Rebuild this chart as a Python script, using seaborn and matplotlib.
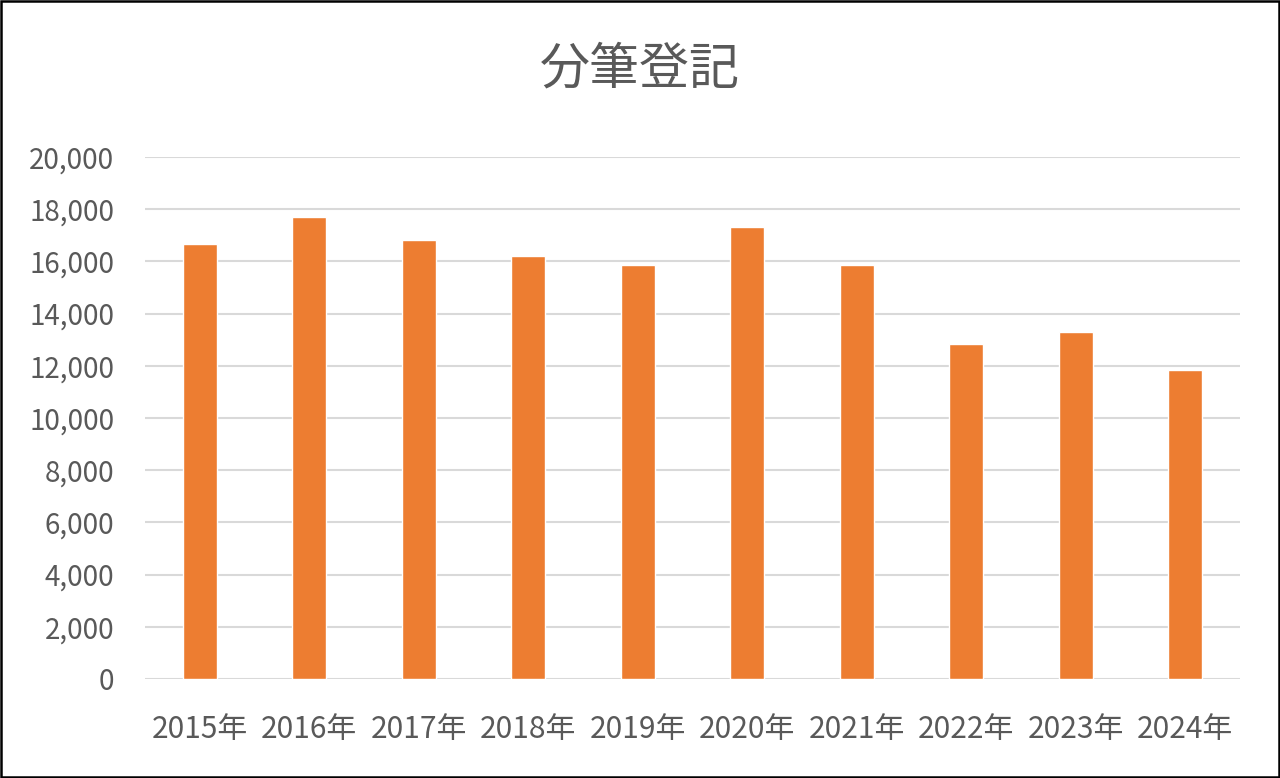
"""
Bar chart of yearly 分筆登記 counts, 2015-2024.
"""

import matplotlib
matplotlib.use("Agg")
import matplotlib.pyplot as plt
from matplotlib.patches import Rectangle
from matplotlib.ticker import FuncFormatter, MultipleLocator
import pandas as pd
import seaborn as sns

years = ["2015年", "2016年", "2017年", "2018年", "2019年",
         "2020年", "2021年", "2022年", "2023年", "2024年"]
counts = [16680, 17690, 16820, 16200, 15850,
          17320, 15870, 12830, 13310, 11850]
title = "分筆登記"

sns.set_theme(style="white")
plt.rcParams["font.family"] = ["Noto Sans CJK JP", "DejaVu Sans"]

text_grey = "#595959"
grid_grey = "#D9D9D9"
bar_orange = "#ED7D31"

df = pd.DataFrame({"year": years, "count": counts})

fig = plt.figure(figsize=(12.8, 7.78), dpi=100)
ax = fig.add_axes([145 / 1280, 1 - 679 / 778, 1095 / 1280, 522 / 778])

# gridlines under the bars
ax.set_axisbelow(True)
ax.yaxis.grid(True, color=grid_grey, linewidth=1.5)
ax.xaxis.grid(False)

sns.barplot(data=df, x="year", y="count", color=bar_orange,
            saturation=1, width=0.31, ax=ax)

ax.set_ylim(0, 20000)
ax.set_xlim(-0.5, len(years) - 0.5)
ax.yaxis.set_major_locator(MultipleLocator(2000))
ax.yaxis.set_major_formatter(FuncFormatter(lambda v, _: f"{int(v):,}"))
ax.set_xlabel("")
ax.set_ylabel("")
for side in ["top", "right", "left", "bottom"]:
    ax.spines[side].set_visible(False)
ax.tick_params(axis="y", length=0, labelsize=20, labelcolor=text_grey, pad=22)
ax.tick_params(axis="x", length=0, labelsize=21.5, labelcolor=text_grey, pad=25)

fig.text(0.5, 1 - 70 / 778, title, ha="center", va="center",
         fontsize=36, color=text_grey)

# thin black frame round the whole chart
fig.patches.append(Rectangle((0.001, 0.0015), 0.998, 0.997,
                             transform=fig.transFigure, fill=False,
                             edgecolor="black", linewidth=1.8))

fig.savefig("out.png", dpi=100)
